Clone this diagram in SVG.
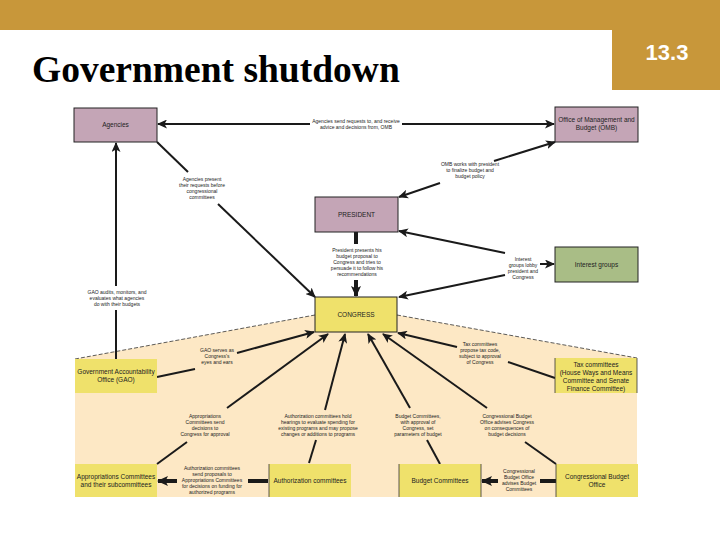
<svg xmlns="http://www.w3.org/2000/svg" width="720" height="540" viewBox="0 0 720 540">
<style>
.box{stroke:#222;stroke-width:1}
.mauve{fill:#C4A5B6}
.yel{fill:#EFE16B}
.green{fill:#A9BD86}
.bt{font-family:"Liberation Sans",Arial,sans-serif;font-size:6.5px;fill:#222;text-anchor:middle}
.lt{font-family:"Liberation Sans",Arial,sans-serif;font-size:5px;fill:#222;text-anchor:middle}
.c{stroke:#1a1a1a;stroke-width:2;fill:none}
.ck{stroke:#1a1a1a;stroke-width:4;fill:none}
.dash{stroke:#333;stroke-width:0.8;stroke-dasharray:4 2;fill:none}
.edge{stroke:#333;stroke-width:0.8}
</style>
<defs>
<marker id="ah" markerUnits="userSpaceOnUse" markerWidth="10" markerHeight="9" refX="9" refY="4.5" orient="auto-start-reverse">
<path d="M0,0 L10,4.5 L0,9 L2.5,4.5 z" fill="#1a1a1a"/>
</marker>
<marker id="ahk" markerUnits="userSpaceOnUse" markerWidth="11" markerHeight="10" refX="10" refY="5" orient="auto-start-reverse">
<path d="M0,0 L11,5 L0,10 L2.5,5 z" fill="#1a1a1a"/>
</marker>
</defs>
<rect width="720" height="540" fill="#fff"/>
<!-- header -->
<rect x="0" y="0" width="720" height="30" fill="#C8973A"/>
<rect x="612" y="0" width="108" height="90" fill="#C8973A"/>
<text x="667" y="60" font-family="Liberation Sans,Arial,sans-serif" font-size="22" font-weight="bold" fill="#fff" text-anchor="middle">13.3</text>
<text x="32" y="82" font-family="Liberation Serif,Times New Roman,serif" font-size="37.5" font-weight="bold" fill="#000">Government shutdown</text>
<!-- peach region -->
<polygon points="75,359 315,315 397,315 637,358 637,497 75,497" fill="#FDE8C5"/>
<path class="dash" d="M75,359 L315,315 M397,315 L637,358"/>
<!-- connectors -->
<g id="connectors">
<path class="c" d="M310,124 L158,124" marker-end="url(#ah)"/>
<path class="c" d="M402,124 L554,124" marker-end="url(#ah)"/>
<text class="lt" x="356" y="123">Agencies send requests to, and receive</text>
<text class="lt" x="356" y="129">advice and decisions from, OMB</text>

<path class="c" d="M494,161 L555,142" marker-end="url(#ah)"/>
<path class="c" d="M440,183 L399,197" marker-end="url(#ah)"/>
<text class="lt" x="470" y="166">OMB works with president</text>
<text class="lt" x="470" y="172">to finalize budget and</text>
<text class="lt" x="470" y="178">budget policy</text>

<path class="c" d="M157,142 L188,172"/>
<path class="c" d="M218,204 L315,297" marker-end="url(#ah)"/>
<text class="lt" x="202" y="181">Agencies present</text>
<text class="lt" x="202" y="187">their requests before</text>
<text class="lt" x="202" y="193">congressional</text>
<text class="lt" x="202" y="199">committees</text>

<path class="c" d="M116,286 L116,143" marker-end="url(#ah)"/>
<path class="c" d="M116,310 L116,359"/>
<text class="lt" x="117" y="294">GAO audits, monitors, and</text>
<text class="lt" x="117" y="300">evaluates what agencies</text>
<text class="lt" x="117" y="306">do with their budgets</text>

<path class="ck" d="M356,232 L356,244"/>
<path class="ck" d="M356,280 L356,296" marker-end="url(#ahk)"/>
<text class="lt" x="357" y="252">President presents his</text>
<text class="lt" x="357" y="258">budget proposal to</text>
<text class="lt" x="357" y="264">Congress and tries to</text>
<text class="lt" x="357" y="270">persuade it to follow his</text>
<text class="lt" x="357" y="276">recommendations</text>

<path class="c" d="M505,253 L399,231" marker-end="url(#ah)"/>
<path class="c" d="M505,275 L399,297" marker-end="url(#ah)"/>
<path class="c" d="M540,264 L554,264" marker-end="url(#ah)"/>
<text class="lt" x="523" y="261">Interest</text>
<text class="lt" x="523" y="267">groups lobby</text>
<text class="lt" x="523" y="273">president and</text>
<text class="lt" x="523" y="279">Congress</text>

<path class="c" d="M157,377 L195,369"/>
<path class="c" d="M237,353 L314,332" marker-end="url(#ah)"/>
<text class="lt" x="217" y="352">GAO serves as</text>
<text class="lt" x="217" y="358">Congress's</text>
<text class="lt" x="217" y="364">eyes and ears</text>

<path class="c" d="M157,464 L187,442"/>
<path class="c" d="M227,408 L328,334" marker-end="url(#ah)"/>
<text class="lt" x="205" y="418">Appropriations</text>
<text class="lt" x="205" y="424">Committees send</text>
<text class="lt" x="205" y="430">decisions to</text>
<text class="lt" x="205" y="436">Congress for approval</text>

<path class="c" d="M309,463 L316,440"/>
<path class="c" d="M325,410 L345,334" marker-end="url(#ah)"/>
<text class="lt" x="318" y="418">Authorization committees hold</text>
<text class="lt" x="318" y="424">hearings to evaluate spending for</text>
<text class="lt" x="318" y="430">existing programs and may propose</text>
<text class="lt" x="318" y="436">changes or additions to programs</text>

<path class="c" d="M440,464 L427,440"/>
<path class="c" d="M410,408 L368,334" marker-end="url(#ah)"/>
<text class="lt" x="418" y="418">Budget Committees,</text>
<text class="lt" x="418" y="424">with approval of</text>
<text class="lt" x="418" y="430">Congress, set</text>
<text class="lt" x="418" y="436">parameters of budget</text>

<path class="c" d="M556,464 L525,442"/>
<path class="c" d="M487,408 L383,334" marker-end="url(#ah)"/>
<text class="lt" x="507" y="418">Congressional Budget</text>
<text class="lt" x="507" y="424">Office advises Congress</text>
<text class="lt" x="507" y="430">on consequences of</text>
<text class="lt" x="507" y="436">budget decisions</text>

<path class="c" d="M555,378 L508,362"/>
<path class="c" d="M457,347 L398,333" marker-end="url(#ah)"/>
<text class="lt" x="480" y="346">Tax committees</text>
<text class="lt" x="480" y="352">propose tax code,</text>
<text class="lt" x="480" y="358">subject to approval</text>
<text class="lt" x="480" y="364">of Congress</text>

<path class="ck" d="M268,481 L248,481"/>
<path class="ck" d="M177,481 L158,481" marker-end="url(#ahk)"/>
<text class="lt" x="212" y="470">Authorization committees</text>
<text class="lt" x="212" y="476">send proposals to</text>
<text class="lt" x="212" y="482">Appropriations Committees</text>
<text class="lt" x="212" y="488">for decisions on funding for</text>
<text class="lt" x="212" y="494">authorized programs</text>

<path class="ck" d="M556,481 L540,481"/>
<path class="ck" d="M498,481 L482,481" marker-end="url(#ahk)"/>
<text class="lt" x="519" y="473">Congressional</text>
<text class="lt" x="519" y="479">Budget Office</text>
<text class="lt" x="519" y="485">advises Budget</text>
<text class="lt" x="519" y="491">Committees</text>
</g>
<!-- nodes -->
<g id="agencies"><rect class="box mauve" x="74" y="108" width="83" height="34"/><text class="bt" x="115.5" y="127">Agencies</text></g>
<g id="omb"><rect class="box mauve" x="555" y="107" width="83" height="35"/><text class="bt" x="596.5" y="122">Office of Management and</text><text class="bt" x="596.5" y="130">Budget (OMB)</text></g>
<g id="president"><rect class="box mauve" x="315" y="197" width="83" height="35"/><text class="bt" x="356.5" y="216.5">PRESIDENT</text></g>
<g id="interest"><rect class="box green" x="555" y="247" width="83" height="35"/><text class="bt" x="596.5" y="266.5">Interest groups</text></g>
<g id="congress"><rect class="box yel" x="315" y="297" width="82" height="35"/><text class="bt" x="356" y="316.5">CONGRESS</text></g>
<g id="gao"><rect class="yel" x="75" y="359" width="82" height="34"/><text class="bt" x="116" y="374">Government Accountability</text><text class="bt" x="116" y="382">Office (GAO)</text></g>
<g id="tax"><rect class="yel" x="555" y="358" width="82" height="35"/><line class="edge" x1="555" y1="358" x2="555" y2="393"/><line class="edge" x1="637" y1="358" x2="637" y2="393"/><text class="bt" x="596" y="367">Tax committees</text><text class="bt" x="596" y="375">(House Ways and Means</text><text class="bt" x="596" y="383">Committee and Senate</text><text class="bt" x="596" y="391">Finance Committee)</text></g>
<g id="appropriations"><rect class="yel" x="75" y="464" width="82" height="33"/><text class="bt" x="116" y="479">Appropriations Committees</text><text class="bt" x="116" y="487">and their subcommittees</text></g>
<g id="authorization"><rect class="yel" x="269" y="464" width="82" height="33"/><line class="edge" x1="269" y1="464" x2="269" y2="497"/><text class="bt" x="310" y="483">Authorization committees</text></g>
<g id="budget"><rect class="yel" x="399" y="464" width="82" height="33"/><line class="edge" x1="399" y1="464" x2="399" y2="497"/><line class="edge" x1="481" y1="464" x2="481" y2="497"/><text class="bt" x="440" y="483">Budget Committees</text></g>
<g id="cbo"><rect class="yel" x="556" y="464" width="82" height="33"/><line class="edge" x1="556" y1="464" x2="556" y2="497"/><text class="bt" x="597" y="479">Congressional Budget</text><text class="bt" x="597" y="487">Office</text></g>
</svg>
